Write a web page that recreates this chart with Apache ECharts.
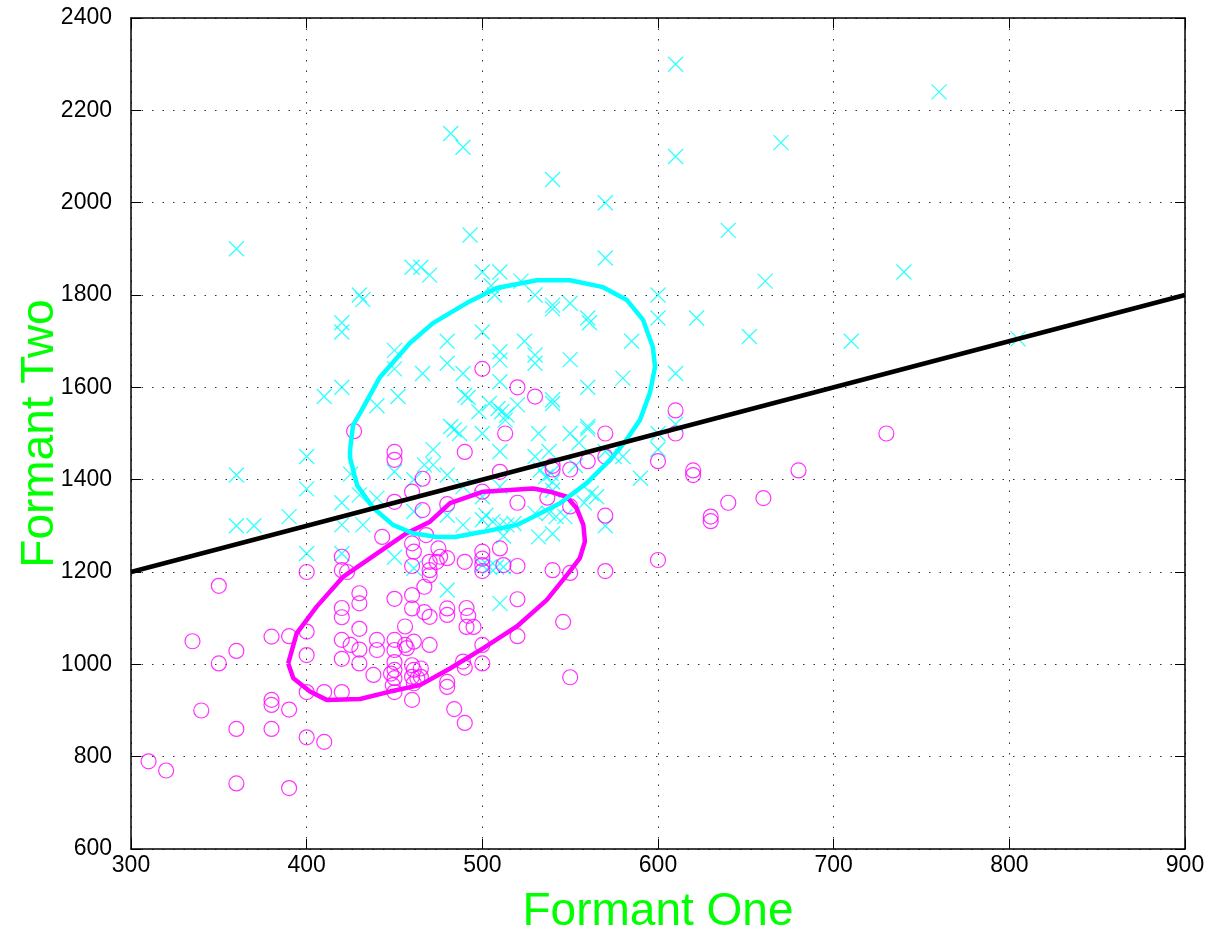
<!DOCTYPE html>
<html>
<head>
<meta charset="utf-8">
<script src="https://cdn.jsdelivr.net/npm/echarts@6/dist/echarts.min.js"></script>
<style>
html,body{margin:0;padding:0;background:#fff;}
#chart{width:1214px;height:934px;}
</style>
</head>
<body>
<div id="chart"></div>
<script>
// Tick values
const xTicks = [300, 400, 500, 600, 700, 800, 900];
const yTicks = [600, 800, 1000, 1200, 1400, 1600, 1800, 2000, 2200, 2400];

// Class 1 (cyan x markers): [Formant One, Formant Two]
const classX = [
  [610,2300],[760,2240],[482,2150],[489,2120],[670,2130],[610,2100],[540,2050],[570,2000],
  [640,1940],[493,1930],[360,1900],[570,1880],[460,1860],[465,1860],[470,1843],[740,1850],
  [500,1850],[510,1850],[661,1830],[522,1830],[505,1820],[430,1800],[432,1790],[507,1800],
  [530,1800],[600,1800],[540,1778],[540,1770],[550,1782],[560,1750],[561,1740],[600,1750],
  [622,1750],[420,1740],[420,1720],[500,1720],[480,1700],[524,1700],[585,1700],[652,1710],
  [710,1700],[805,1705],[450,1680],[510,1677],[510,1659],[530,1670],[530,1652],[550,1660],
  [480,1652],[450,1640],[466,1630],[489,1630],[580,1620],[610,1630],[510,1612],[420,1600],
  [560,1600],[410,1580],[452,1580],[490,1583],[492,1578],[540,1573],[540,1565],[440,1560],
  [498,1547],[504,1565],[509,1554],[511,1547],[514,1540],[513,1529],[520,1562],[482,1515],
  [484,1508],[487,1500],[500,1500],[532,1500],[550,1500],[560,1515],[560,1510],[600,1500],
  [600,1466],[610,1520],[472,1465],[510,1461],[530,1450],[538,1461],[555,1480],[570,1461],
  [575,1450],[580,1450],[590,1403],[400,1450],[360,1410],[425,1412],[450,1417],[467,1432],
  [472,1432],[461,1400],[480,1410],[533,1421],[536,1406],[539,1414],[553,1430],[489,1385],
  [500,1363],[510,1385],[540,1395],[540,1377],[562,1370],[565,1363],[558,1350],[400,1380],
  [420,1350],[430,1367],[440,1360],[390,1320],[360,1300],[370,1300],[420,1302],[432,1302],
  [461,1331],[480,1323],[502,1323],[506,1309],[510,1302],[514,1302],[489,1302],[500,1313],
  [518,1305],[530,1327],[538,1327],[542,1320],[547,1320],[570,1300],[532,1276],[540,1283],
  [512,1278],[400,1240],[420,1240],[450,1232],[461,1208],[500,1215],[504,1211],[508,1211],
  [512,1211],[480,1161],[510,1132]
];

// Class 2 (magenta o markers): [Formant One, Formant Two]
const classO = [
  [500,1640],[520,1600],[530,1580],[427,1505],[450,1460],[450,1443],[490,1460],[513,1500],
  [570,1500],[610,1550],[610,1500],[600,1440],[510,1417],[540,1430],[540,1422],[550,1422],
  [560,1440],[570,1450],[620,1420],[620,1410],[680,1420],[730,1500],[660,1360],[640,1350],
  [630,1320],[630,1310],[600,1226],[500,1374],[480,1347],[466,1402],[460,1374],[466,1334],
  [450,1352],[520,1350],[537,1361],[550,1342],[570,1322],[443,1276],[460,1262],[461,1244],
  [460,1213],[468,1280],[475,1251],[476,1233],[470,1222],[474,1222],[480,1230],[420,1233],
  [420,1204],[423,1200],[400,1200],[350,1170],[510,1251],[500,1244],[500,1229],[500,1215],
  [500,1202],[490,1222],[512,1215],[520,1213],[540,1204],[550,1198],[570,1202],[470,1204],
  [470,1193],[467,1168],[460,1150],[450,1142],[430,1154],[430,1132],[420,1122],[420,1102],
  [460,1121],[467,1113],[470,1103],[480,1121],[480,1107],[492,1105],[491,1122],[491,1081],
  [495,1081],[520,1141],[546,1092],[520,1061],[500,1042],[500,1002],[489,1006],[490,993],
  [550,972],[484,903],[490,873],[480,962],[480,951],[460,923],[430,1077],[456,1082],
  [390,1061],[380,1060],[400,1071],[420,1053],[425,1042],[430,1032],[440,1053],[440,1031],
  [450,1053],[450,1031],[456,1042],[457,1035],[461,1049],[470,1042],[400,1020],[420,1012],
  [430,1002],[450,1005],[450,988],[448,980],[450,970],[449,955],[460,998],[461,988],
  [465,991],[460,973],[463,970],[465,973],[461,959],[438,977],[400,940],[410,940],
  [420,940],[450,940],[335,1050],[360,1029],[350,1002],[340,900],[380,923],[380,912],
  [390,902],[360,860],[380,860],[400,842],[410,832],[310,790],[320,770],[360,742],[390,732]
];

// Contour of class 1 (cyan ellipse)
const contourX = [
  [424.7,1464],[426.4,1518],[430.4,1544],[441.7,1622],[458.8,1696],[471.9,1739],[491.3,1783],
  [508.3,1815],[531.1,1832],[549.9,1832],[568.7,1817],[582.3,1789],[591.5,1746],[597.1,1687],
  [598.3,1644],[595.4,1588],[589.7,1529],[581.2,1482],[572.7,1443],[559.6,1393],[544.2,1349],
  [528.8,1319],[519.7,1302],[500.4,1287],[484.4,1276],[474.2,1276],[460.5,1284],[449.1,1302],
  [437.8,1339],[428.7,1388],[424.7,1447],[424.7,1464]
];

// Contour of class 2 (magenta ellipse)
const contourO = [
  [389.5,1002],[394.3,1067],[405.7,1125],[420.9,1190],[439.9,1240],[456.9,1284],[470.2,1309],
  [481.6,1349],[500.5,1374],[529.0,1381],[538.5,1374],[548.0,1363],[553.7,1338],[557.5,1302],
  [558.4,1266],[555.5,1230],[548.9,1197],[536.6,1139],[519.6,1082],[500.6,1035],[481.6,991],
  [464.5,955],[447.4,941],[430.4,925],[411.4,923],[401.9,941],[392.4,970],[389.5,1002]
];

// Decision boundary (straight line) end points
const boundary = [[300,1200],[900,1800]];

const chart = echarts.init(document.getElementById('chart'), null, {renderer: 'canvas'});

const gridLine = {show: true, lineStyle: {color: '#333', width: 1, type: [1.5, 9]}};
const fmt = v => String(v);
const tickFont = {color: '#000', fontSize: 23, fontFamily: 'Liberation Sans, Arial, sans-serif', formatter: fmt};
const nameFont = {color: '#00ff00', fontSize: 46, fontFamily: 'Liberation Sans, Arial, sans-serif'};

chart.setOption({
  animation: false,
  backgroundColor: '#fff',
  grid: {left: 131, top: 18, right: 29, bottom: 85, containLabel: false, outerBoundsMode: 'none'},
  xAxis: [{
    type: 'value', min: xTicks[0], max: xTicks[xTicks.length-1], interval: 100,
    position: 'bottom',
    name: 'Formant One', nameLocation: 'middle', nameGap: 40, nameTextStyle: nameFont,
    axisLine: {show: true, onZero: false, lineStyle: {color: '#000', width: 1.5}},
    axisTick: {show: true, inside: true, length: 10, lineStyle: {color: '#000'}},
    axisLabel: Object.assign({margin: 5}, tickFont),
    splitLine: gridLine
  }, {
    type: 'value', min: xTicks[0], max: xTicks[xTicks.length-1], interval: 100,
    position: 'top',
    axisLine: {show: true, onZero: false, lineStyle: {color: '#000', width: 1.5}},
    axisTick: {show: true, inside: true, length: 10, lineStyle: {color: '#000'}},
    axisLabel: {show: false}, splitLine: {show: false}
  }],
  yAxis: [{
    type: 'value', min: yTicks[0], max: yTicks[yTicks.length-1], interval: 200,
    position: 'left',
    name: 'Formant Two', nameLocation: 'middle', nameGap: 68, nameRotate: 90, nameTextStyle: nameFont,
    nameMoveOverlap: false,
    axisLine: {show: true, onZero: false, lineStyle: {color: '#000', width: 1.5}},
    axisTick: {show: true, inside: true, length: 10, lineStyle: {color: '#000'}},
    axisLabel: Object.assign({margin: 19}, tickFont),
    splitLine: gridLine
  }, {
    type: 'value', min: yTicks[0], max: yTicks[yTicks.length-1], interval: 200,
    position: 'right',
    axisLine: {show: true, onZero: false, lineStyle: {color: '#000', width: 1.5}},
    axisTick: {show: true, inside: true, length: 10, lineStyle: {color: '#000'}},
    axisLabel: {show: false}, splitLine: {show: false}
  }],
  series: [
    {
      type: 'scatter', data: classX, symbol: 'path://M0 0L10 10M10 0L0 10', symbolSize: 15,
      itemStyle: {color: 'rgba(0,0,0,0)', borderColor: '#00ffff', borderWidth: 1.3},
      emphasis: {disabled: true}, z: 2
    },
    {
      type: 'scatter', data: classO, symbol: 'circle', symbolSize: 15,
      itemStyle: {color: 'rgba(0,0,0,0)', borderColor: '#ff00ff', borderWidth: 1.2},
      emphasis: {disabled: true}, z: 3
    },
    {
      type: 'line', data: contourO, showSymbol: false, smooth: false,
      lineStyle: {color: '#ff00ff', width: 4.5}, emphasis: {disabled: true}, z: 4
    },
    {
      type: 'line', data: contourX, showSymbol: false, smooth: false,
      lineStyle: {color: '#00ffff', width: 4.5}, emphasis: {disabled: true}, z: 5
    },
    {
      type: 'line', data: boundary, showSymbol: false,
      lineStyle: {color: '#000', width: 4.5}, emphasis: {disabled: true}, z: 6
    }
  ]
});
</script>
</body>
</html>
